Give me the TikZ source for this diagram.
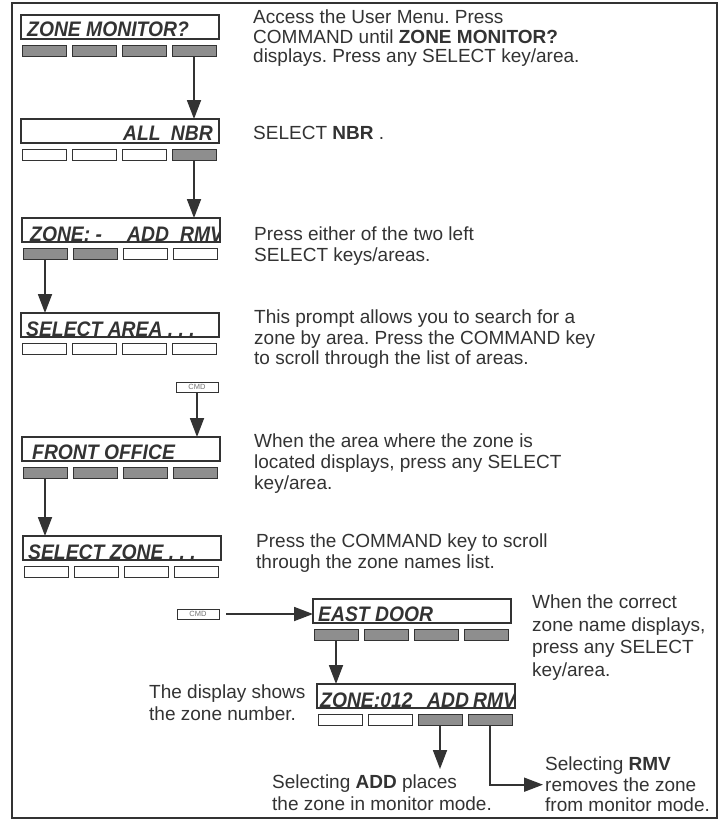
\documentclass[tikz,border=0pt]{standalone}
\usepackage{fontspec}
\setmainfont{Liberation Sans}
\newfontfamily\lcdfont[FakeStretch=0.92]{Liberation Sans}
\usetikzlibrary{arrows.meta}

\definecolor{ink}{HTML}{333333}
\definecolor{keygray}{HTML}{8E8E8E}

\tikzset{
  lcd/.style={draw=ink, line width=1.4pt, minimum width=198pt, minimum height=24pt, inner sep=0pt, outer sep=0pt, anchor=north west},
  keyoff/.style={draw=ink, line width=1pt, fill=white, minimum width=44pt, minimum height=11pt, inner sep=0pt, outer sep=0pt},
  keyon/.style={keyoff, fill=keygray},
  lcdtext/.style={anchor=base west, inner sep=0pt, text=ink, font=\lcdfont\fontsize{21}{21}\selectfont\bfseries\itshape},
  note/.style={anchor=north west, inner sep=0pt, align=left, text=ink, font=\fontsize{19}{20.5}\selectfont},
  cmd/.style={draw=ink, line width=1pt, fill=white, minimum width=42pt, minimum height=10pt, inner sep=0pt, outer sep=0pt, anchor=north west, text=black!55, font=\fontsize{7.5}{7.5}\selectfont},
  arr/.style={draw=ink, line width=1.8pt, -{Triangle[length=19pt,width=14pt]}},
}

% the four SELECT keys under a display
\newcommand{\keyrow}[2]{%
  \foreach \s [count=\k] in {#2}
    \node[\s, anchor=north west] (#1k\k) at ([xshift={(\k-1)*50pt+1pt}, yshift=-6pt]#1.south west) {};
}

\begin{document}
\frenchspacing
\begin{tikzpicture}[x=1pt,y=-1pt]
\useasboundingbox (0,0) rectangle (724,823);
\fill[white] (0,0) rectangle (724,823);
\draw[ink, line width=1.5pt] (12,3) rectangle (717,818);

% displays
\node[lcd] (d1) at (21,15) {};
\node[lcdtext] at ([xshift=6pt, yshift=3pt]d1.south west) {ZONE MONITOR?};
\keyrow{d1}{keyon,keyon,keyon,keyon}

\node[lcd] (d2) at (21,119) {};
\node[lcdtext] at ([xshift=102pt, yshift=2.5pt]d2.south west) {ALL};
\node[lcdtext, anchor=base east] at ([xshift=192pt, yshift=2.5pt]d2.south west) {NBR};
\keyrow{d2}{keyoff,keyoff,keyoff,keyon}

\node[lcd] (d3) at (22,218) {};
\begin{scope}
\clip (d3.north west) rectangle ([yshift=-6pt]d3.south east);
\node[lcdtext] at ([xshift=8pt, yshift=1pt]d3.south west) {ZONE: -};
\node[lcdtext] at ([xshift=105pt, yshift=1pt]d3.south west) {ADD};
\node[lcdtext] at ([xshift=158pt, yshift=1pt]d3.south west) {RMV};
\end{scope}
\keyrow{d3}{keyon,keyon,keyoff,keyoff}

\node[lcd] (d4) at (21,313) {};
\node[lcdtext] at ([xshift=5pt, yshift=1pt]d4.south west) {SELECT AREA . . .};
\keyrow{d4}{keyoff,keyoff,keyoff,keyoff}

\node[cmd] (c1) at (176,382) {CMD};

\node[lcd] (d5) at (22,437) {};
\node[lcdtext] at ([xshift=10pt, yshift=2pt]d5.south west) {FRONT OFFICE};
\keyrow{d5}{keyon,keyon,keyon,keyon}

\node[lcd] (d6) at (23,536) {};
\node[lcdtext] at ([xshift=5pt, yshift=1pt]d6.south west) {SELECT ZONE . . .};
\keyrow{d6}{keyoff,keyoff,keyoff,keyoff}

\node[cmd] (c2) at (177,609) {CMD};

\node[lcd] (d7) at (313,599) {};
\node[lcdtext] at ([xshift=5pt, yshift=2pt]d7.south west) {EAST DOOR};
\keyrow{d7}{keyon,keyon,keyon,keyon}

\node[lcd] (d8) at (317,684) {};
\begin{scope}
\clip (d8.north west) rectangle ([yshift=-6pt]d8.south east);
\node[lcdtext] at ([xshift=3pt, yshift=1pt]d8.south west) {ZONE:012};
\node[lcdtext] at ([xshift=110pt, yshift=1pt]d8.south west) {ADD};
\node[lcdtext] at ([xshift=156pt, yshift=1pt]d8.south west) {RMV};
\end{scope}
\keyrow{d8}{keyoff,keyoff,keyon,keyon}

% notes
\node[note, font=\fontsize{19}{19.5}\selectfont] (t1) at (253,10) {Access the User Menu. Press\\COMMAND until \textbf{ZONE MONITOR?}\\displays. Press any SELECT key/area.};
\node[note] (t2) at (253,126) {SELECT \textbf{NBR} .};
\node[note, font=\fontsize{19}{21}\selectfont] (t3) at (254,227) {Press either of the two left\\SELECT keys/areas.};
\node[note] (t4) at (254,310) {This prompt allows you to search for a\\zone by area. Press the COMMAND key\\to scroll through the list of areas.};
\node[note, font=\fontsize{19}{21}\selectfont] (t5) at (254,434) {When the area where the zone is\\located displays, press any SELECT\\key/area.};
\node[note] (t6) at (256,534) {Press the COMMAND key to scroll\\through the zone names list.};
\node[note, font=\fontsize{19}{22.5}\selectfont] (t7) at (532,595) {When the correct\\zone name displays,\\press any SELECT\\key/area.};
\node[note, font=\fontsize{19}{21.5}\selectfont] (t8) at (149,685) {The display shows\\the zone number.};
\node[note, font=\fontsize{19}{22}\selectfont] (t9) at (272,775) {Selecting \textbf{ADD} places\\the zone in monitor mode.};
\node[note, font=\fontsize{19}{20.5}\selectfont] (t10) at (545,757) {Selecting \textbf{RMV}\\removes the zone\\from monitor mode.};

% arrows
\draw[arr] (d1k4.south) -- (d1k4.south |- d2.north);
\draw[arr] (d2k4.south) -- (d2k4.south |- d3.north);
\draw[arr] (d3k1.south) -- (d3k1.south |- d4.north);
\draw[arr] (c1.south) -- (c1.south |- d5.north);
\draw[arr] (d5k1.south) -- (d5k1.south |- d6.north);
\draw[arr, shorten <=7pt] (c2.east) -- (c2.east -| d7.west);
\draw[arr] (d7k1.south) -- (d7k1.south |- d8.north);
\draw[arr, shorten >=6pt] (d8k3.south) -- (d8k3.south |- t9.north);
\draw[arr, shorten >=2pt] (d8k4.south) |- (t10.west);
\end{tikzpicture}
\end{document}
